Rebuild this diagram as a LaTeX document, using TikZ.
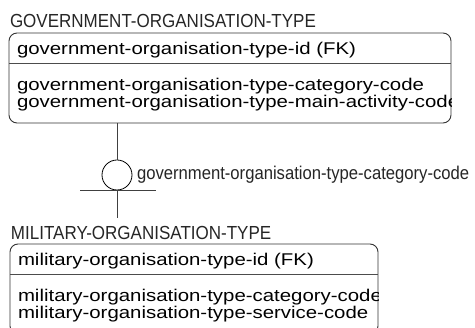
\documentclass[tikz,border=0pt]{standalone}
\usepackage{fontspec}
\setmainfont{Liberation Sans}
\newfontfamily\narrowfont[FakeStretch=0.9]{Liberation Sans}
\newfontfamily\widefont[FakeStretch=1.2]{Liberation Sans}
\usetikzlibrary{positioning}

\begin{document}
\begin{tikzpicture}[x=1pt, y=-1pt,
  every node/.style={inner sep=0pt, outer sep=0pt},
  entity/.style={draw=black!80, line width=0.9pt, rounded corners=8pt,
                 anchor=north west, minimum height=90pt},
  ename/.style={font=\narrowfont\fontsize{18.9}{20}\selectfont, anchor=base west, text=black!85},
  rolename/.style={font=\narrowfont\fontsize{18.5}{20}\selectfont, anchor=base west, text=black!85},
  attr/.style={font=\widefont\fontsize{17}{18}\selectfont, anchor=base west},
  divider/.style={draw=black!70, line width=0.8pt},
  link/.style={draw=black!75, line width=0.8pt}
]
\useasboundingbox (0,0) rectangle (475,328);

% parent entity
\node[entity, minimum width=442pt] (gotbox) at (9,33) {};
\node[ename] (gotitle) at (10,28) {GOVERNMENT-ORGANISATION-TYPE};
\begin{scope}
  \clip (gotbox.north west) rectangle (gotbox.south east);
  \node[attr] (gotkey) at (17,55) {government-organisation-type-id (FK)};
  \node[attr] (gotcat) at (17,91) {government-organisation-type-category-code};
  \node[attr] (gotact) at (17,108) {government-organisation-type-main-activity-code};
\end{scope}
\draw[divider] (gotbox.west |- 0,63) -- (gotbox.east |- 0,63);

% subtype discriminator
\node[draw=black, line width=0.8pt, circle, minimum size=30pt] (subcat) at (117,175) {};
\node[rolename] (catlabel) at (137,180) {government-organisation-type-category-code};
\coordinate (barl) at (80,190);
\coordinate (barr) at (156,190);
\coordinate (tail) at (117,218);
\draw[link] (gotbox.south -| subcat) -- (subcat.north);
\draw[link] (barl) -- (barr);
\draw[link] (subcat.south) -- (tail);

% child entity
\node[entity, minimum width=368pt] (mobox) at (10,244) {};
\node[ename] (motitle) at (11,240) {MILITARY-ORGANISATION-TYPE};
\begin{scope}
  \clip (mobox.north west) rectangle (mobox.south east);
  \node[attr] (mokey) at (18,266) {military-organisation-type-id (FK)};
  \node[attr] (mocat) at (18,302) {military-organisation-type-category-code};
  \node[attr] (mosvc) at (18,319) {military-organisation-type-service-code};
\end{scope}
\draw[divider] (mobox.west |- 0,274) -- (mobox.east |- 0,274);
\end{tikzpicture}
\end{document}
